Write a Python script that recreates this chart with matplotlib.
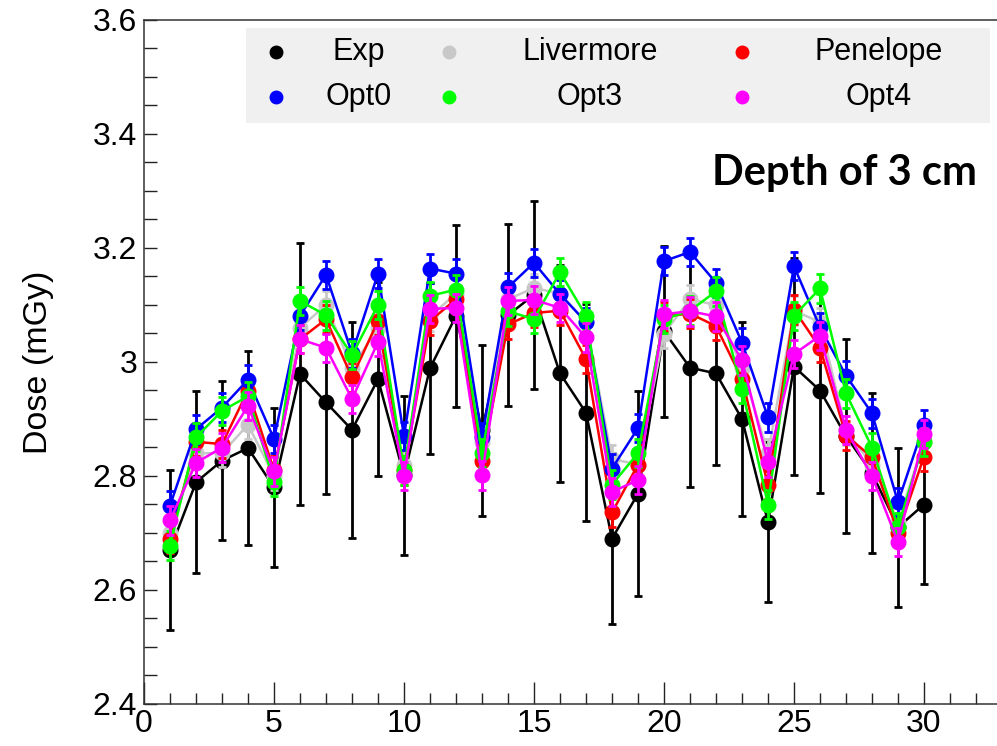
import matplotlib
matplotlib.use("Agg")
import matplotlib.pyplot as plt
from matplotlib.patches import Rectangle
from matplotlib.ticker import MultipleLocator

plt.rcParams['font.family'] = ['Liberation Sans', 'DejaVu Sans']

# ---------------- data ----------------
x = list(range(1, 31))

exp_vals = [2.670, 2.789, 2.827, 2.849, 2.780, 2.979, 2.929, 2.881, 2.970, 2.801,
            2.989, 3.081, 2.880, 3.082, 3.118, 2.980, 2.911, 2.690, 2.769, 3.054,
            2.990, 2.980, 2.900, 2.719, 2.992, 2.950, 2.870, 2.805, 2.710, 2.750]
exp_err = [0.14, 0.16, 0.14, 0.17, 0.14, 0.23, 0.16, 0.19, 0.17, 0.14,
           0.15, 0.16, 0.15, 0.16, 0.165, 0.19, 0.19, 0.15, 0.18, 0.15,
           0.21, 0.16, 0.17, 0.14, 0.19, 0.18, 0.17, 0.14, 0.14, 0.14]

livermore = [2.700, 2.840, 2.840, 2.890, 2.800, 3.060, 3.100, 2.990, 3.060, 2.820,
             3.080, 3.120, 2.860, 3.110, 3.130, 3.120, 3.070, 2.830, 2.820, 3.050,
             3.110, 3.100, 2.990, 2.840, 3.090, 3.070, 2.880, 2.820, 2.720, 2.860]

penelope = [2.690, 2.860, 2.856, 2.950, 2.810, 3.040, 3.075, 2.973, 3.072, 2.810,
            3.072, 3.110, 2.827, 3.066, 3.086, 3.090, 3.005, 2.736, 2.820, 3.080,
            3.085, 3.063, 2.970, 2.784, 3.092, 3.025, 2.871, 2.833, 2.700, 2.834]

opt0 = [2.748, 2.882, 2.920, 2.969, 2.865, 3.081, 3.153, 3.015, 3.155, 2.870,
        3.164, 3.155, 2.868, 3.131, 3.174, 3.119, 3.070, 2.813, 2.884, 3.177,
        3.193, 3.139, 3.034, 2.903, 3.168, 3.061, 2.976, 2.910, 2.754, 2.890]

opt3 = [2.678, 2.868, 2.914, 2.940, 2.790, 3.107, 3.082, 3.012, 3.100, 2.810,
        3.116, 3.127, 2.840, 3.089, 3.075, 3.158, 3.081, 2.785, 2.840, 3.075,
        3.090, 3.124, 2.953, 2.750, 3.081, 3.129, 2.945, 2.850, 2.710, 2.860]

opt4 = [2.722, 2.823, 2.850, 2.923, 2.808, 3.040, 3.025, 2.935, 3.035, 2.800,
        3.093, 3.095, 2.801, 3.107, 3.109, 3.095, 3.043, 2.772, 2.793, 3.084,
        3.089, 3.080, 3.003, 2.824, 3.014, 3.046, 2.881, 2.800, 2.684, 2.874]

sim_err = [0.025] * 30

series_names = ["Exp", "Livermore", "Penelope", "Opt0", "Opt3", "Opt4"]
series_vals = [exp_vals, livermore, penelope, opt0, opt3, opt4]
series_errs = [exp_err, sim_err, sim_err, sim_err, sim_err, sim_err]
series_colors = ["#000000", "#c8c8c8", "#ff0000", "#0000ff", "#00ff00", "#ff00ff"]

x_ticks = [0, 5, 10, 15, 20, 25, 30]
y_ticks = [2.4, 2.6, 2.8, 3.0, 3.2, 3.4, 3.6]
y_tick_labels = ["2.4", "2.6", "2.8", "3", "3.2", "3.4", "3.6"]

# ---------------- figure ----------------
W, H = 997, 746
fig = plt.figure(figsize=(W / 100, H / 100), dpi=100)
ax_left, ax_right, ax_top, ax_bottom = 144, 1002, 20, 704
ax = fig.add_axes([ax_left / W, 1 - ax_bottom / H,
                   (ax_right - ax_left) / W, (ax_bottom - ax_top) / H])

for i, (vals, errs, col) in enumerate(zip(series_vals, series_errs, series_colors)):
    ax.errorbar(x, vals, yerr=errs, fmt='o-', color=col, ecolor=col,
                markersize=10.5, linewidth=1.8, elinewidth=2.0,
                capsize=3.0, capthick=2.0, zorder=2 + i, clip_on=False)

ax.set_xlim(0, 33)
ax.set_ylim(2.4, 3.6)
ax.set_xticks(x_ticks)
ax.set_yticks(y_ticks)
ax.set_yticklabels(y_tick_labels)
ax.xaxis.set_minor_locator(MultipleLocator(1))
ax.yaxis.set_minor_locator(MultipleLocator(0.05))
ax.tick_params(axis='x', which='major', direction='in', length=15.5, width=1.0,
               labelsize=23, pad=3.5, color='#222222')
ax.tick_params(axis='x', which='minor', direction='in', length=7.8, width=1.0,
               color='#222222')
ax.tick_params(axis='y', which='both', direction='in', length=9.5, width=1.0,
               labelsize=23, pad=5, color='#222222')
for s in ax.spines.values():
    s.set_linewidth(1.1)
    s.set_color('#333333')

fig.text(39 / W, 1 - 362 / H, "Dose (mGy)", rotation=90, ha='center',
         va='center', fontsize=24.5)

# annotation
fig.text(977 / W, 1 - 185 / H, "Depth of 3 cm", ha='right', va='baseline',
         fontsize=30, fontweight='bold', family=['Lato', 'DejaVu Sans'])

# legend (drawn manually to match layout)
box_l, box_r, box_t, box_b = 246, 990, 28, 123
fig.patches.append(Rectangle((box_l / W, 1 - box_b / H), (box_r - box_l) / W,
                             (box_b - box_t) / H, transform=fig.transFigure,
                             facecolor='#f0f0f0', edgecolor='none', zorder=1))
marker_x = [276, 449, 742]
text_x = [359, 590, 879]
row_y = [52, 97]
for k, (name, col) in enumerate(zip(series_names, series_colors)):
    r, c = divmod(k, 3)
    fig.lines.append(plt.Line2D([marker_x[c] / W], [1 - row_y[r] / H],
                                transform=fig.transFigure, marker='o',
                                markersize=9, color=col, linestyle='none',
                                zorder=3))
    fig.text(text_x[c] / W, 1 - row_y[r] / H, name, ha='center', va='center',
             fontsize=22, zorder=3)

fig.savefig("out.png", dpi=100)
